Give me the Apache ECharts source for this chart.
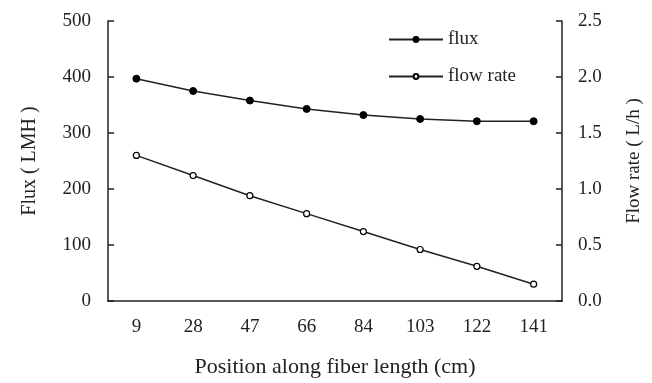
<!DOCTYPE html>
<html><head><meta charset="utf-8">
<script src="https://cdn.jsdelivr.net/npm/echarts@6/dist/echarts.min.js"></script>
<style>html,body{margin:0;padding:0;background:#fff}#c{width:652px;height:383px}</style>
</head><body><div id="c"></div>
<script>
const categories = ['9','28','47','66','84','103','122','141'];
const fluxValues = [397, 375, 358, 343, 332, 325, 321, 321];
const flowRateValues = [1.30, 1.12, 0.94, 0.78, 0.62, 0.46, 0.31, 0.15];
const leftTicks = [0, 100, 200, 300, 400, 500];
const rightTicks = [0.0, 0.5, 1.0, 1.5, 2.0, 2.5];

const font = 'Liberation Serif';
const ink = '#222';
const chart = echarts.init(document.getElementById('c'));
chart.setOption({
  backgroundColor: '#fff',
  animation: false,
  textStyle: {fontFamily: font, color: ink},
  grid: {left: 108, right: 88, top: 21, bottom: 81},
  legend: {
    orient: 'vertical', left: 383, top: 25, itemWidth: 54, itemHeight: 6, itemGap: 18,
    textStyle: {fontFamily: font, fontSize: 19, color: ink},
    data: ['flux', 'flow rate']
  },
  xAxis: {
    type: 'category', data: categories, boundaryGap: true,
    name: 'Position along fiber length (cm)', nameLocation: 'middle', nameGap: 55,
    nameTextStyle: {fontFamily: font, fontSize: 22, color: ink},
    axisLine: {lineStyle: {color: ink, width: 1.5}},
    axisTick: {inside: true, length: 6, lineStyle: {color: ink, width: 1.5}},
    axisLabel: {fontFamily: font, fontSize: 19, color: ink, margin: 17},
    splitLine: {show: false}
  },
  yAxis: [{
    type: 'value', min: 0, max: 500, interval: 100,
    name: 'Flux ( LMH )', nameLocation: 'middle', nameGap: 68,
    nameTextStyle: {fontFamily: font, fontSize: 20, color: ink},
    axisLine: {show: true, lineStyle: {color: ink, width: 1.5}},
    axisTick: {show: true, inside: true, length: 6, lineStyle: {color: ink, width: 1.5}},
    axisLabel: {fontFamily: font, fontSize: 19, color: ink, margin: 17,
      formatter: v => leftTicks.includes(v) ? String(v) : ''},
    splitLine: {show: false}
  }, {
    type: 'value', min: 0, max: 2.5, interval: 0.5, position: 'right',
    name: 'Flow rate ( L/h )', nameLocation: 'middle', nameGap: 63,
    nameTextStyle: {fontFamily: font, fontSize: 19, color: ink},
    axisLine: {show: true, lineStyle: {color: ink, width: 1.5}},
    axisTick: {show: true, inside: true, length: 6, lineStyle: {color: ink, width: 1.5}},
    axisLabel: {fontFamily: font, fontSize: 19, color: ink, margin: 16,
      formatter: v => { const t = rightTicks.find(r => Math.abs(r - v) < 1e-9); return t === undefined ? '' : t.toFixed(1); }},
    splitLine: {show: false}
  }],
  series: [{
    name: 'flux', type: 'line', yAxisIndex: 0, data: fluxValues,
    symbol: 'circle', symbolSize: 7,
    lineStyle: {color: ink, width: 1.5},
    itemStyle: {color: '#000', borderColor: '#000', borderWidth: 1}
  }, {
    name: 'flow rate', type: 'line', yAxisIndex: 1, data: flowRateValues,
    symbol: 'circle', symbolSize: 6,
    lineStyle: {color: ink, width: 1.5},
    itemStyle: {color: '#fff', borderColor: '#000', borderWidth: 1.2}
  }]
});
</script></body></html>
